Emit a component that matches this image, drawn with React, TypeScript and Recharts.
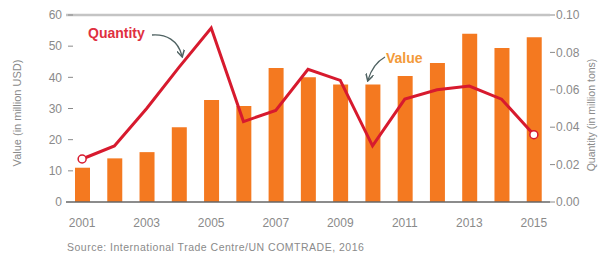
import React from 'react'
import {
  ComposedChart, Bar, Line, XAxis, YAxis, ReferenceLine
} from 'recharts'

const years = ['2001', '2002', '2003', '2004', '2005', '2006', '2007', '2008', '2009', '2010', '2011', '2012', '2013', '2014', '2015']
// export value, million USD (bars, left axis)
const valueUsd = [11, 14, 16, 24, 32.7, 30.8, 43, 40, 37.7, 37.7, 40.4, 44.6, 54, 49.4, 52.9]
// quantity, million tons (line, right axis)
const quantityTons = [0.023, 0.03, 0.05, 0.072, 0.093, 0.043, 0.049, 0.071, 0.065, 0.03, 0.055, 0.06, 0.062, 0.055, 0.036]
const leftTicks = [0, 10, 20, 30, 40, 50, 60]
const rightTicks = [0, 0.02, 0.04, 0.06, 0.08, 0.1]
const bandTicks = years.map((_, i) => i).concat(years.length)

const data = years.map((year, i) => ({ year, value: valueUsd[i], quantity: quantityTons[i] }))

const FONT = '"Liberation Sans", Arial, sans-serif'
const GREY = '#8a8a8a'
const RED = '#d71a2e'
const ORANGE = '#f47920'

function LeftTick({ x, y, payload }: any) {
  return (
    <g>
      <text x={x} y={y} dy="0.35em" textAnchor="end" fill={GREY} fontSize={12} fontFamily={FONT}>
        {payload.value}
      </text>
      <line x1={x + 6} x2={x + 11} y1={y} y2={y} stroke={GREY} strokeWidth={1} />
    </g>
  )
}

function EndDot({ cx, cy, index }: any) {
  if (index !== 0 && index !== years.length - 1) return <g key={index} />
  return <circle key={index} cx={cx} cy={cy} r={4} fill="#fff" stroke={RED} strokeWidth={1.5} />
}

export default function App() {
  return (
    <div style={{ position: 'absolute', left: 0, top: 0, width: 600, height: 256, background: '#fff' }}>
      <ComposedChart width={600} height={256} data={data} margin={{ top: 15, right: 0, left: 0, bottom: 23 }}>
        <XAxis
          xAxisId="frame"
          type="number"
          domain={[0, years.length]}
          ticks={bandTicks}
          tick={false}
          tickSize={3}
          height={1}
          axisLine={{ stroke: '#666', strokeWidth: 1.5 }}
          tickLine={{ stroke: '#666' }}
        />
        <XAxis
          xAxisId="years"
          dataKey="year"
          interval={1}
          height={30}
          axisLine={false}
          tickLine={false}
          tickSize={0}
          tickMargin={15}
          tick={{ fill: GREY, fontSize: 12, fontFamily: FONT }}
        />
        <YAxis
          yAxisId="left"
          domain={[0, 60]}
          ticks={leftTicks}
          width={66}
          axisLine={false}
          tickLine={false}
          tickSize={0}
          tickMargin={4}
          tick={<LeftTick />}
        />
        <YAxis
          yAxisId="right"
          orientation="right"
          domain={[0, 0.1]}
          ticks={rightTicks}
          width={50}
          axisLine={false}
          tickLine={{ stroke: GREY }}
          tickSize={5}
          tickMargin={1}
          tickFormatter={(v) => Number(v).toFixed(2)}
          tick={{ fill: GREY, fontSize: 12, fontFamily: FONT }}
        />
        <ReferenceLine yAxisId="left" xAxisId="years" y={60} stroke="#c4c4c4" strokeWidth={2.5} />
        <Bar xAxisId="years" yAxisId="left" dataKey="value" fill={ORANGE} barSize={15} isAnimationActive={false} />
        <Line
          xAxisId="years"
          yAxisId="right"
          dataKey="quantity"
          type="linear"
          stroke={RED}
          strokeWidth={3}
          dot={<EndDot />}
          activeDot={false}
          isAnimationActive={false}
        />
      </ComposedChart>
      <svg width={600} height={256} style={{ position: 'absolute', left: 0, top: 0, pointerEvents: 'none' }}>
        <defs>
          <marker id="arrow" markerWidth="8" markerHeight="8" refX="6" refY="4" orient="auto" markerUnits="userSpaceOnUse">
            <path d="M0,0 L7,4 L0,8" fill="none" stroke="#4f6262" strokeWidth={1.5} />
          </marker>
        </defs>
        <text x={18} y={113} transform="rotate(-90 18 113)" textAnchor="middle" dominantBaseline="middle" fill={GREY} fontSize={11} fontFamily={FONT}>
          Value (in million USD)
        </text>
        <text x={592} y={115} transform="rotate(-90 592 115)" textAnchor="middle" dominantBaseline="middle" fill={GREY} fontSize={10.5} fontFamily={FONT}>
          Quantity (in million tons)
        </text>
        <text x={88} y={38} fill="#e0303f" fontSize={14} fontWeight="bold" fontFamily={FONT}>Quantity</text>
        <path d="M152,35 C166,34 178,40 182,56" fill="none" stroke="#4f6262" strokeWidth={1.3} markerEnd="url(#arrow)" />
        <text x={386} y={63} fill="#f39a3a" fontSize={14} fontWeight="bold" fontFamily={FONT}>Value</text>
        <path d="M385,57 C376,62 371,70 368,80" fill="none" stroke="#4f6262" strokeWidth={1.3} markerEnd="url(#arrow)" />
        <text x={67} y={251} fill={GREY} fontSize={10.5} letterSpacing={0.5} fontFamily={FONT}>
          Source: International Trade Centre/UN COMTRADE, 2016
        </text>
      </svg>
    </div>
  )
}
